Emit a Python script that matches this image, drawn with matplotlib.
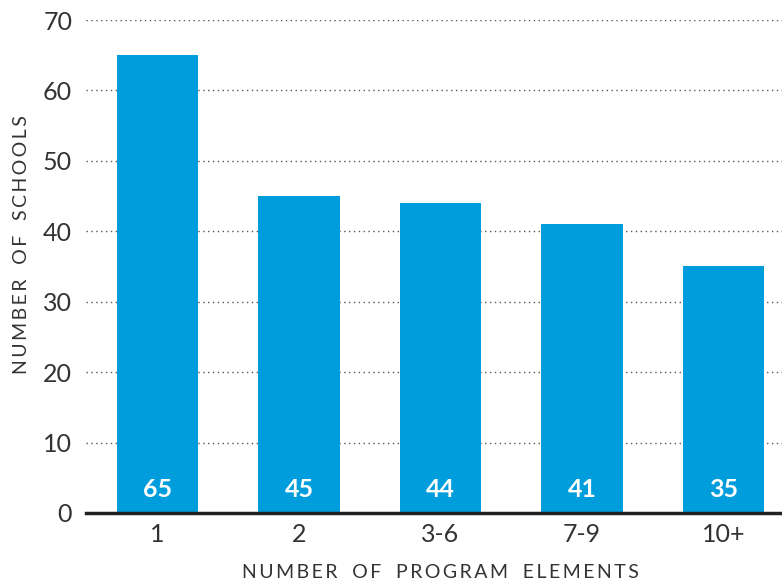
import matplotlib.pyplot as plt

categories = ["1", "2", "3-6", "7-9", "10+"]
schools = [65, 45, 44, 41, 35]
y_ticks = [0, 10, 20, 30, 40, 50, 60, 70]

bar_color = "#009ddc"
text_color = "#333333"

plt.rcParams['font.family'] = ['Lato', 'DejaVu Sans']


def spaced(s):
    # rough letter spacing: thin space between letters, wider gap between words
    words = s.split(" ")
    return "\u2002 ".join("\u2009".join(w) for w in words)


fig = plt.figure(figsize=(7.82, 5.82), dpi=100)
ax = fig.add_axes([0.11, 0.1186, 0.89, 0.847])

x = list(range(len(categories)))
ax.bar(x, schools, width=0.573, color=bar_color, zorder=2)

for xi, v in zip(x, schools):
    ax.text(xi, 3.4, str(v), ha='center', va='center', color='white',
            fontsize=18, fontweight='bold', zorder=3)

ax.set_xlim(-0.505, 4.413)
ax.set_ylim(0, 70)
ax.set_yticks(y_ticks)
ax.set_xticks(x)
ax.set_xticklabels(categories)

ax.yaxis.grid(True, linestyle=(0, (1, 2.5)), color='#555555', linewidth=1, zorder=0)
ax.set_axisbelow(True)

for s in ['top', 'right', 'left']:
    ax.spines[s].set_visible(False)
ax.spines['bottom'].set_color('#222222')
ax.spines['bottom'].set_linewidth(2.5)
ax.spines['bottom'].set_zorder(4)

ax.tick_params(axis='both', length=0, labelsize=18, labelcolor=text_color)
ax.tick_params(axis='y', pad=10)
ax.tick_params(axis='x', pad=7)

ax.set_xlabel(spaced("NUMBER OF PROGRAM ELEMENTS"), fontsize=14, color=text_color)
ax.set_ylabel(spaced("NUMBER OF SCHOOLS"), fontsize=14, color=text_color)
ax.xaxis.set_label_coords(0.509, -0.104)
ax.yaxis.set_label_coords(-0.08, 0.545)

fig.savefig("out.png", dpi=100)
